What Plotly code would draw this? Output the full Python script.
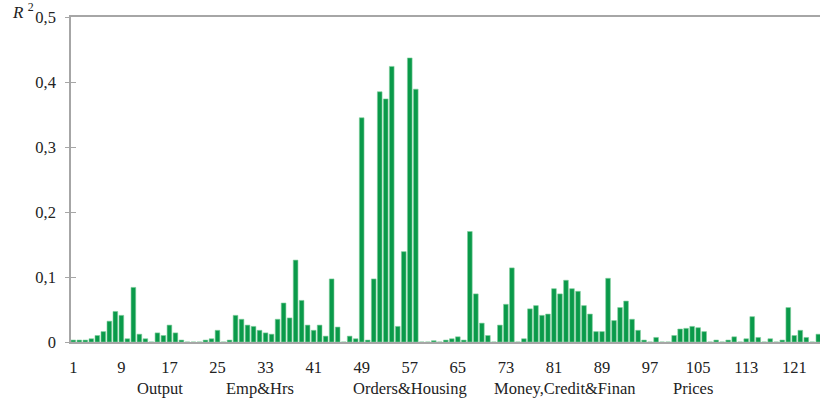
import plotly.graph_objects as go

# R^2 values for series 1..125 (0 = no visible bar)
r2 = [
    0.003, 0.003, 0.003, 0.005, 0.010, 0.016, 0.032, 0.047, 0.041, 0.005,   # 1-10
    0.084, 0.012, 0.005, 0.0,   0.014, 0.010, 0.026, 0.014, 0.003, 0.0,     # 11-20
    0.0,   0.0,   0.003, 0.005, 0.018, 0.0,   0.003, 0.041, 0.035, 0.026,   # 21-30
    0.024, 0.018, 0.014, 0.012, 0.035, 0.060, 0.037, 0.126, 0.064, 0.026,   # 31-40
    0.018, 0.026, 0.009, 0.097, 0.023, 0.0,   0.009, 0.005, 0.345, 0.003,   # 41-50
    0.097, 0.385, 0.374, 0.424, 0.024, 0.139, 0.437, 0.389, 0.0,   0.0,     # 51-60
    0.002, 0.0,   0.003, 0.005, 0.008, 0.003, 0.170, 0.074, 0.029, 0.010,   # 61-70
    0.0,   0.026, 0.058, 0.114, 0.0,   0.005, 0.051, 0.056, 0.041, 0.043,   # 71-80
    0.082, 0.074, 0.095, 0.082, 0.078, 0.056, 0.043, 0.016, 0.016, 0.098,   # 81-90
    0.033, 0.053, 0.063, 0.035, 0.018, 0.003, 0.0,   0.007, 0.0,   0.0,     # 91-100
    0.010, 0.020, 0.021, 0.024, 0.022, 0.016, 0.0,   0.003, 0.0,   0.003,   # 101-110
    0.008, 0.0,   0.005, 0.039, 0.007, 0.0,   0.005, 0.0,   0.003, 0.053,   # 111-120
    0.010, 0.018, 0.007, 0.0,   0.012,                                      # 121-125
]
series_index = list(range(1, len(r2) + 1))

x_tick_vals = list(range(1, 122, 8))
x_tick_text = [str(v) for v in x_tick_vals]
y_tick_vals = [0, 0.1, 0.2, 0.3, 0.4, 0.5]

group_names = ["Output", "Emp&Hrs", "Orders&Housing", "Money,Credit&Finan", "Prices"]
group_centers = [15.5, 32.0, 57.0, 82.8, 104.1]

FONT = "Liberation Serif"
FS = 16.5
TXT = "#222222"
AXIS_GRAY = "#a6a6a6"
BAR_GREEN = "#0a9a4a"

fig = go.Figure()
fig.add_trace(go.Bar(
    x=series_index, y=r2,
    marker=dict(color=BAR_GREEN, line=dict(color="#7fcf9c", width=0.6)),
    showlegend=False, hoverinfo="x+y",
))

fig.update_layout(
    width=820, height=402,
    margin=dict(l=71, r=0, t=17, b=60, autoexpand=False),
    paper_bgcolor="white", plot_bgcolor="white",
    separators=", ",
    bargap=0.22,
    font=dict(family=FONT, size=FS, color=TXT),
    xaxis=dict(
        range=[0.617, 125.28],
        tickmode="array", tickvals=x_tick_vals, ticktext=x_tick_text,
        showgrid=False, zeroline=False,
        showline=True, linecolor=AXIS_GRAY, linewidth=1.5, mirror=True,
        ticks="outside", ticklen=9, tickcolor="rgba(0,0,0,0)",
        tickfont=dict(family=FONT, size=FS, color=TXT),
        ticklabeloverflow="allow",
    ),
    yaxis=dict(
        range=[0, 0.5],
        tickmode="array", tickvals=y_tick_vals,
        showgrid=False, zeroline=False,
        showline=True, linecolor=AXIS_GRAY, linewidth=1.5,
        ticks="outside", ticklen=4, tickcolor=AXIS_GRAY, tickwidth=1,
        tickfont=dict(family=FONT, size=FS, color=TXT),
        ticklabelstandoff=6,
        ticklabeloverflow="allow",
    ),
    yaxis2=dict(
        range=[0, 0.5], overlaying="y", anchor="x", side="left",
        tickmode="array", tickvals=y_tick_vals,
        showticklabels=False, showgrid=False, zeroline=False, showline=False,
        ticks="inside", ticklen=5, tickcolor=AXIS_GRAY, tickwidth=1,
    ),
)

# invisible trace to activate yaxis2 (for crossing tick marks)
fig.add_trace(go.Scatter(x=[1], y=[0], yaxis="y2", mode="markers",
                         marker=dict(opacity=0), showlegend=False, hoverinfo="skip"))

for name, cx in zip(group_names, group_centers):
    fig.add_annotation(
        x=cx, xref="x", y=0, yref="paper", yshift=-46,
        text=name, showarrow=False,
        font=dict(family=FONT, size=FS, color=TXT),
        xanchor="center", yanchor="middle",
    )

fig.add_annotation(
    x=0, xref="paper", xshift=-61, y=1, yref="paper", yshift=6,
    text="<i>R</i> <sup>2</sup>", showarrow=False,
    font=dict(family=FONT, size=17, color=TXT),
    xanchor="left", yanchor="middle",
)

# remove the default 8px page margin so the figure fills the window exactly
fig.write_html("out.html",
               config={"displayModeBar": False},
               post_script="document.body.style.margin='0';document.body.style.padding='0';")
